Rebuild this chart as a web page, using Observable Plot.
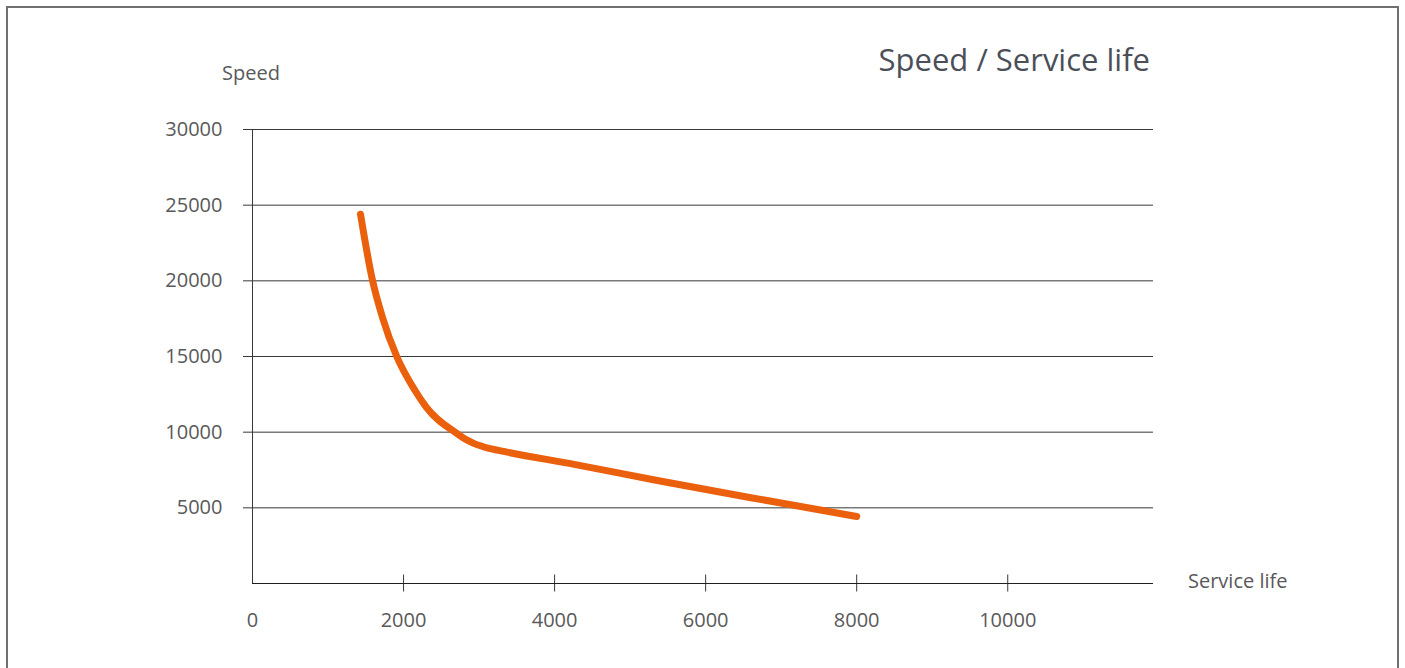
<!DOCTYPE html>
<html>
<head>
<meta charset="utf-8">
<script src="https://cdn.jsdelivr.net/npm/d3@7"></script>
<script src="https://cdn.jsdelivr.net/npm/@observablehq/plot@0.6"></script>
<style>
  html, body { margin: 0; padding: 0; background: #fff; overflow: hidden; }
  #wrap { position: relative; width: 1405px; height: 668px; }
  #frame { position: absolute; left: 6px; top: 6px; width: 1393px; height: 700px; border: 2px solid #707070; box-sizing: border-box; }
  .lbl { position: absolute; font-family: "Open Sans", sans-serif; color: #595959; white-space: nowrap; }
  #title { right: 255px; top: 38px; font-size: 31px; color: #4b4f57; }
  #ylab { left: 222px; top: 59px; font-size: 20px; }
  #xlab { left: 1188px; top: 567px; font-size: 20px; }
  #chart { position: absolute; left: 0; top: 0; }
</style>
</head>
<body>
<div id="wrap">
  <div id="frame"></div>
  <div id="chart"></div>
  <div id="title" class="lbl">Speed / Service life</div>
  <div id="ylab" class="lbl">Speed</div>
  <div id="xlab" class="lbl">Service life</div>
</div>
<script>
const serviceLife = [1430, 1590, 1720, 1910, 2150, 2300, 2710, 2820, 2930, 3150, 3370, 4260, 5360, 6600, 8000];
const speed       = [24400, 20000, 17600, 15000, 12770, 11660, 9900, 9530, 9260, 8910, 8680, 7870, 6810, 5670, 4430];
const xTicks = [2000, 4000, 6000, 8000, 10000];
const xTickLabels = [0, 2000, 4000, 6000, 8000, 10000];
const yTicks = [5000, 10000, 15000, 20000, 25000, 30000];

const data = serviceLife.map((x, i) => ({x, y: speed[i]}));

const chart = Plot.plot({
  width: 1405,
  height: 668,
  marginLeft: 252,
  marginRight: 252,
  marginTop: 129,
  marginBottom: 85,
  style: { fontFamily: "'Open Sans', sans-serif", fontSize: "20px", color: "#595959", background: "transparent" },
  x: { domain: [0, 11930] },
  y: { domain: [0, 30000] },
  marks: [
    Plot.ruleY(yTicks, { stroke: "#383838", strokeWidth: 1 }),
    Plot.axisY({ ticks: yTicks, tickSize: 9, tickPadding: 21, tickFormat: d => String(d), stroke: "#383838", fill: "#595959", label: null }),
    Plot.axisX({ ticks: xTicks, tickSize: 17, dy: -8.5, tickFormat: () => "", stroke: "#383838", label: null }),
    Plot.axisX({ ticks: xTickLabels, tickSize: 0, tickPadding: 29, tickFormat: d => String(d), fill: "#595959", label: null }),
    Plot.ruleX([0], { stroke: "#383838", strokeWidth: 1 }),
    Plot.ruleY([0], { stroke: "#202020", strokeWidth: 1 }),
    Plot.line(data, { x: "x", y: "y", stroke: "#EA600C", strokeWidth: 7, curve: "monotone-x", strokeLinecap: "round", strokeLinejoin: "round" })
  ]
});
document.getElementById("chart").appendChild(chart);
</script>
</body>
</html>
